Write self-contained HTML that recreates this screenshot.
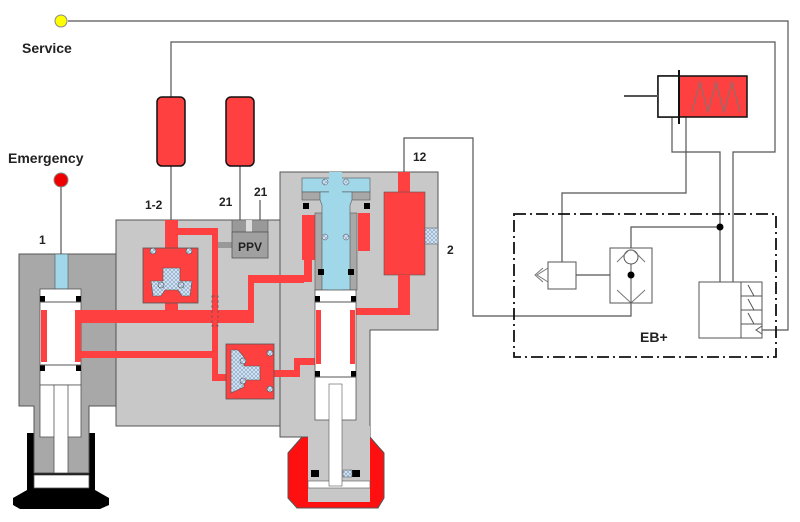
<!DOCTYPE html>
<html><head><style>
body{margin:0;background:#fff}
svg{display:block}
text{font-family:"Liberation Sans",sans-serif;font-weight:bold;fill:#222}
</style></head><body>
<svg width="800" height="522" viewBox="0 0 800 522" xmlns="http://www.w3.org/2000/svg">
<defs>
<pattern id="h" width="4" height="4" patternUnits="userSpaceOnUse"><rect width="4" height="4" fill="#dce8f4"/><path d="M0 4L4 0M0 0L4 4" stroke="#8aa8c8" stroke-width="0.7"/></pattern>
</defs>
<g stroke="#555" stroke-width="1.2" fill="none">
<!-- service line -->
<polyline points="68,21 788,21 788,330 762,330"/>
<polyline points="171,97 171,42 775,42 775,152 733,152 733,282"/>
<polyline points="404,172 404,138 473,138 473,316 631,316 631,303"/>
<polyline points="672,117 672,152 720,152 720,282"/>
<polyline points="686,117 686,193 562,193 562,262"/>
<polyline points="720,227 631,227 631,250"/>
<line x1="576" y1="275" x2="631" y2="275"/>
<line x1="171" y1="166" x2="171" y2="220"/>
<line x1="240" y1="166" x2="240" y2="220"/>
<line x1="260" y1="200" x2="260" y2="220"/>
<line x1="61" y1="187" x2="61" y2="254"/>
</g>
<circle cx="61" cy="21" r="6" fill="#ffff00" stroke="#888"/>
<circle cx="61" cy="180" r="7" fill="#ee0000" stroke="#888"/>
<!-- tanks -->
<rect x="157" y="97" width="28" height="69" rx="5" fill="#ff4040" stroke="#111" stroke-width="1.5"/>
<rect x="226" y="97" width="28" height="69" rx="5" fill="#ff4040" stroke="#111" stroke-width="1.5"/>
<!-- left body -->
<path d="M27 433H95V490L109 498V505L100 509H20L13 505V498L27 490Z" fill="#000"/>
<path d="M19 254H116V406H89V473H34V406H19Z" fill="#a8a8a8" stroke="#555"/>
<rect x="55" y="254" width="13" height="35" fill="#a0d8ea" stroke="#555" stroke-width="0.6"/>
<rect x="40" y="289" width="41" height="96" fill="#fff" stroke="#555" stroke-width="0.8"/>
<rect x="40" y="296" width="5" height="6" fill="#000"/><rect x="76" y="296" width="5" height="6" fill="#000"/>
<rect x="40" y="365" width="5" height="6" fill="#000"/><rect x="76" y="365" width="5" height="6" fill="#000"/>
<line x1="40" y1="302" x2="81" y2="302" stroke="#555"/><line x1="40" y1="365" x2="81" y2="365" stroke="#555"/>
<rect x="41" y="310" width="6" height="52" fill="#ff4040"/><rect x="75" y="310" width="6" height="52" fill="#ff4040"/>
<rect x="40" y="385" width="41" height="52" fill="#fff" stroke="#555" stroke-width="0.8"/>
<rect x="54" y="385" width="14" height="88" fill="#fff" stroke="#555" stroke-width="0.8"/>
<rect x="34" y="475" width="55" height="13" fill="#fff" stroke="#555" stroke-width="0.8"/>
<!-- middle body -->
<rect x="116" y="220" width="164" height="206" fill="#c8c8c8" stroke="#555"/>
<!-- right body -->
<path d="M280 172H438V330H370V437H280Z" fill="#c8c8c8" stroke="#555"/>
<path d="M302 437L288 453V498L297 508H378L384 498V453L370 437Z" fill="#ff1010" stroke="#555"/>
<rect x="308" y="426" width="62" height="76" fill="#c8c8c8"/>
<rect x="311" y="470" width="8" height="7" fill="#000"/><rect x="352" y="470" width="8" height="7" fill="#000"/>
<rect x="343" y="470" width="9" height="7" fill="url(#h)" stroke="#555" stroke-width="0.5"/>
<rect x="308" y="481" width="62" height="7" fill="#fff" stroke="#555" stroke-width="0.6"/>
<!-- channels -->
<g fill="#ff4040">
<rect x="81" y="310" width="172" height="13"/>
<rect x="248" y="275" width="56" height="8"/>
<rect x="248" y="275" width="6" height="48"/>
<rect x="81" y="351" width="131" height="7"/>
<rect x="165" y="220" width="13" height="30"/>
<rect x="165" y="300" width="13" height="15"/>
<rect x="178" y="228" width="40" height="7"/>
<rect x="212" y="228" width="6" height="153"/>
<rect x="212" y="374" width="16" height="7"/>
<rect x="272" y="370" width="28" height="7"/>
<rect x="294" y="358" width="22" height="7"/>
<rect x="294" y="358" width="6" height="19"/>
<rect x="302" y="215" width="13" height="45"/>
<rect x="304" y="260" width="8" height="22"/>
<rect x="358" y="213" width="12" height="38"/>
<rect x="398" y="172" width="12" height="22"/>
<rect x="384" y="192" width="41" height="83" stroke="#555" stroke-width="0.6"/>
<rect x="398" y="275" width="12" height="40"/>
<rect x="356" y="308" width="54" height="7"/>
</g>
<rect x="212" y="296" width="6" height="30" fill="none" stroke="#555" stroke-dasharray="3,2" stroke-width="0.7"/>
<!-- valve 1 -->
<rect x="143" y="248" width="55" height="55" fill="#ff4040" stroke="#555" stroke-width="0.8"/>
<path d="M163 268H180V281H192L190 296H182L178 290H165L161 296H153L151 281H163Z" fill="url(#h)" stroke="#555" stroke-width="0.6"/>
<circle cx="153" cy="251" r="3" fill="url(#h)" stroke="#555" stroke-width="0.6"/><circle cx="189" cy="251" r="3" fill="url(#h)" stroke="#555" stroke-width="0.6"/>
<circle cx="161" cy="285" r="3" fill="url(#h)" stroke="#555" stroke-width="0.6"/><circle cx="181" cy="285" r="3" fill="url(#h)" stroke="#555" stroke-width="0.6"/>
<!-- valve 2 -->
<rect x="226" y="344" width="48" height="55" fill="#ff4040" stroke="#555" stroke-width="0.8"/>
<path d="M231 350H238L244 357V366H260V380H244V387L231 393Z" fill="url(#h)" stroke="#555" stroke-width="0.6"/>
<circle cx="243" cy="361" r="3" fill="url(#h)" stroke="#555" stroke-width="0.6"/><circle cx="243" cy="381" r="3" fill="url(#h)" stroke="#555" stroke-width="0.6"/>
<circle cx="270" cy="353" r="3" fill="url(#h)" stroke="#555" stroke-width="0.6"/><circle cx="270" cy="389" r="3" fill="url(#h)" stroke="#555" stroke-width="0.6"/>
<!-- PPV -->
<rect x="232" y="220" width="36" height="12" fill="#999" stroke="#555" stroke-width="0.6"/>
<rect x="246" y="220" width="6" height="12" fill="#ddd"/>
<rect x="218" y="242" width="14" height="6" fill="#999"/>
<rect x="232" y="232" width="36" height="26" fill="#a0a0a0" stroke="#555" stroke-width="0.8"/>
<text x="238" y="251" font-size="12">PPV</text>
<!-- right valve stem -->
<rect x="302" y="178" width="68" height="14" fill="#a0d8ea" stroke="#555" stroke-width="0.6"/>
<rect x="302" y="192" width="68" height="8" fill="#a8a8a8" stroke="#555" stroke-width="0.6"/>
<rect x="315" y="213" width="42" height="77" fill="#a8a8a8" stroke="#555" stroke-width="0.6"/>
<path d="M320 192H352V200L350 205V290H322V205L320 200Z" fill="#a0d8ea" stroke="#555" stroke-width="0.6"/>
<rect x="329" y="172" width="13" height="118" fill="#a0d8ea"/>
<rect x="303" y="203" width="6" height="6" fill="#000"/><rect x="364" y="203" width="6" height="6" fill="#000"/>
<rect x="318" y="269" width="6" height="6" fill="#000"/><rect x="348" y="269" width="6" height="6" fill="#000"/>
<circle cx="325" cy="182" r="3" fill="url(#h)" stroke="#555" stroke-width="0.5"/><circle cx="346" cy="182" r="3" fill="url(#h)" stroke="#555" stroke-width="0.5"/>
<circle cx="325" cy="237" r="3" fill="url(#h)" stroke="#555" stroke-width="0.5"/><circle cx="346" cy="237" r="3" fill="url(#h)" stroke="#555" stroke-width="0.5"/>
<!-- piston 2 -->
<rect x="315" y="290" width="41" height="130" fill="#fff" stroke="#555" stroke-width="0.8"/>
<rect x="315" y="296" width="5" height="6" fill="#000"/><rect x="351" y="296" width="5" height="6" fill="#000"/>
<rect x="315" y="371" width="5" height="6" fill="#000"/><rect x="351" y="371" width="5" height="6" fill="#000"/>
<line x1="315" y1="302" x2="356" y2="302" stroke="#555"/><line x1="315" y1="377" x2="356" y2="377" stroke="#555"/>
<rect x="316" y="310" width="5" height="54" fill="#ff4040"/><rect x="350" y="310" width="5" height="54" fill="#ff4040"/>
<rect x="329" y="384" width="13" height="102" fill="#fff" stroke="#555" stroke-width="0.6"/>
<rect x="425" y="228" width="13" height="16" fill="url(#h)" stroke="#555" stroke-width="0.5"/>
<!-- EB+ -->
<rect x="514" y="214" width="262" height="143" fill="none" stroke="#111" stroke-width="1.8" stroke-dasharray="12,4,2,4"/>
<rect x="658" y="76" width="89" height="41" fill="#ff4040" stroke="#111" stroke-width="1.5"/>
<rect x="658" y="76" width="21" height="41" fill="#fff" stroke="#111" stroke-width="1.5"/>
<line x1="679" y1="70" x2="679" y2="124" stroke="#111" stroke-width="2"/>
<line x1="624" y1="96" x2="658" y2="96" stroke="#555" stroke-width="2"/>
<polyline points="692,112 700,82 708,112 716,82 724,112 732,82 740,112" fill="none" stroke="#777"/>
<rect x="548" y="262" width="28" height="27" fill="#fff" stroke="#555"/>
<path d="M548 268L537 275L548 282M543 268L535 275L543 282" fill="none" stroke="#777"/>
<rect x="610" y="248" width="42" height="55" fill="#fff" stroke="#555"/>
<circle cx="631" cy="257" r="7" fill="#fff" stroke="#555"/>
<path d="M617 262L629 250M645 262L633 250M617 290L631 303L645 290" fill="none" stroke="#777"/>
<line x1="631" y1="264" x2="631" y2="303" stroke="#555"/>
<circle cx="631" cy="275" r="3.5" fill="#000"/>
<circle cx="720" cy="227" r="3.5" fill="#000"/>
<rect x="699" y="282" width="63" height="56" fill="#fff" stroke="#555"/>
<line x1="741" y1="282" x2="741" y2="338" stroke="#555"/>
<path d="M741 296H762M741 310H762M741 324H762M748 285L754 296M748 299L754 310M748 313L754 324M762 326L756 330L762 334" fill="none" stroke="#555"/>
<!-- labels -->
<text x="22" y="53" font-size="14">Service</text>
<text x="8" y="163" font-size="14">Emergency</text>
<text x="39" y="244" font-size="12">1</text>
<text x="145" y="209" font-size="12">1-2</text>
<text x="219" y="206" font-size="12">21</text>
<text x="254" y="196" font-size="12">21</text>
<text x="413" y="161" font-size="12">12</text>
<text x="447" y="254" font-size="12">2</text>
<text x="640" y="342" font-size="14">EB+</text>
</svg>
</body></html>
